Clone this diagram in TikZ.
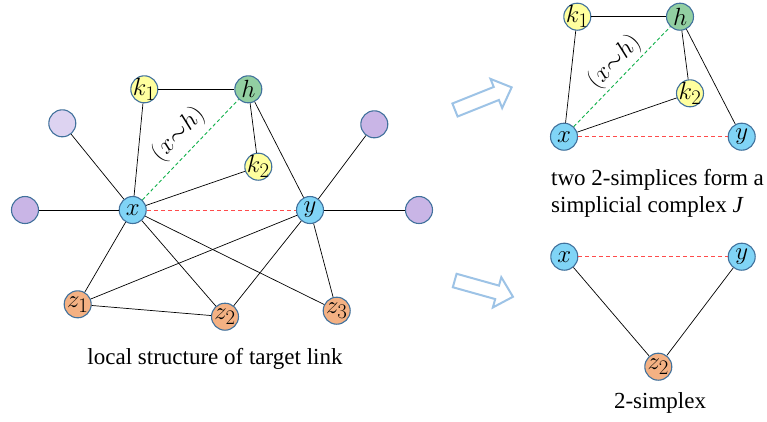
\documentclass[tikz,border=0pt]{standalone}
\usepackage{fontspec}
\setmainfont{Liberation Serif}
\begin{document}
\begin{tikzpicture}[x=1pt,y=-1pt,
  vtx/.style={circle,draw=nodeedge,line width=1.1pt,minimum size=27pt,inner sep=0pt},
  vl/.style={label={[font=\Huge,inner sep=0pt]center:#1}},
  bl/.style={vtx,fill=nblue,vl={#1}},
  yl/.style={vtx,fill=nyellow,vl={#1}},
  gr/.style={vtx,fill=ngreen,vl={#1}},
  org/.style={vtx,fill=norange,vl={#1}},
  pu/.style={vtx,fill=npurple},
  pul/.style={vtx,fill=npurplel},
  lnk/.style={line width=0.7pt,black},
  rdash/.style={line width=0.8pt,draw=nred,dash pattern=on 4pt off 3pt},
  gdash/.style={line width=0.9pt,draw=ngreen2,dash pattern=on 3.5pt off 2.5pt},
  captxt/.style={font=\fontsize{23}{27}\selectfont},
  simlabel/.style={font=\Huge,inner sep=0pt},
  hollow/.style={draw=narrow,line width=2pt,fill=white,line join=miter}
]
\definecolor{nodeedge}{HTML}{41719C}
\definecolor{nblue}{HTML}{80D4F6}
\definecolor{nyellow}{HTML}{FFFF9E}
\definecolor{ngreen}{HTML}{92CFA2}
\definecolor{norange}{HTML}{F4B183}
\definecolor{npurple}{HTML}{C9B5E6}
\definecolor{npurplel}{HTML}{DDD3F1}
\definecolor{nred}{HTML}{FF4B4B}
\definecolor{ngreen2}{HTML}{10B04A}
\definecolor{narrow}{HTML}{9DC3E6}
\useasboundingbox (0,0) rectangle (767,421);

% ---------- left graph ----------
\node[bl={$x$}]    (x)  at (132.7,210) {};
\node[bl={$y$}]    (y)  at (310,210)   {};
\node[yl={$k_1$}]  (k1) at (144.3,89.3) {};
\node[gr={$h$}]    (h)  at (248.3,89.3) {};
\node[yl={$k_2$}]  (k2) at (258.3,166.7) {};
\node[pul] (p1) at (62.3,123.3) {};
\node[pu]  (p2) at (25,210) {};
\node[pu]  (p3) at (374.3,124.3) {};
\node[pu]  (p4) at (419,210) {};
\node[org={$z_1$}] (z1) at (77.7,304.3) {};
\node[org={$z_2$}] (z2) at (225,316.7) {};
\node[org={$z_3$}] (z3) at (336.7,310.7) {};

\draw[lnk] (x) -- (p1);
\draw[lnk] (x) -- (p2);
\draw[lnk] (x) -- (k1);
\draw[lnk] (x) -- (k2);
\draw[lnk] (x) -- (z1);
\draw[lnk] (x) -- (z2);
\draw[lnk] (x) -- (z3);
\draw[lnk] (k1) -- (h);
\draw[lnk] (h) -- (k2);
\draw[lnk] (h) -- (y);
\draw[lnk] (y) -- (p3);
\draw[lnk] (y) -- (p4);
\draw[lnk] (y) -- (z1);
\draw[lnk] (y) -- (z2);
\draw[lnk] (y) -- (z3);
\draw[lnk] (z1) -- (z2);
\draw[gdash] (x) -- (h);
\draw[rdash] (x) -- (y);
\node[simlabel,rotate=46] (lxh) at (178.5,134.5) {$(x{\sim}h)$};
\node[captxt] (c1) at (215,359) {local structure of target link};

% ---------- right top ----------
\node[yl={$k_1$}] (rk1) at (577.3,16.7) {};
\node[gr={$h$}]   (rh)  at (680,16.7) {};
\node[yl={$k_2$}] (rk2) at (690,93.3) {};
\node[bl={$x$}]   (rx)  at (564,136.7) {};
\node[bl={$y$}]   (ry)  at (741.7,136.7) {};
\draw[lnk] (rk1) -- (rh);
\draw[lnk] (rk1) -- (rx);
\draw[lnk] (rh) -- (rk2);
\draw[lnk] (rh) -- (ry);
\draw[lnk] (rx) -- (rk2);
\draw[gdash] (rx) -- (rh);
\draw[rdash] (rx) -- (ry);
\node[simlabel,rotate=46] (rlxh) at (614.5,62) {$(x{\sim}h)$};
\node[captxt,anchor=base west,align=left,inner sep=0pt] (c2) at (551,212)
  {two 2-simplices form a\\simplicial complex \textit{J}};

% ---------- right bottom ----------
\node[bl={$x$}]    (bx) at (564.3,256.7) {};
\node[bl={$y$}]    (by) at (741.7,256.7) {};
\node[org={$z_2$}] (bz) at (658.3,366.7) {};
\draw[lnk] (bx) -- (bz);
\draw[lnk] (by) -- (bz);
\draw[rdash] (bx) -- (by);
\node[captxt] (c3) at (660,403) {2-simplex};

% ---------- hollow arrows ----------
\begin{scope}[shift={(455,110)},rotate=21.8]
  \draw[hollow] (0,-7) -- (44.5,-7) -- (44.5,-15.7) -- (61,0) -- (44.5,15.7) -- (44.5,7) -- (0,7) -- cycle;
\end{scope}
\begin{scope}[shift={(454.7,280.5)},rotate=-15.6]
  \draw[hollow] (0,-7) -- (44,-7) -- (44,-15.7) -- (60.5,0) -- (44,15.7) -- (44,7) -- (0,7) -- cycle;
\end{scope}
\end{tikzpicture}
\end{document}
